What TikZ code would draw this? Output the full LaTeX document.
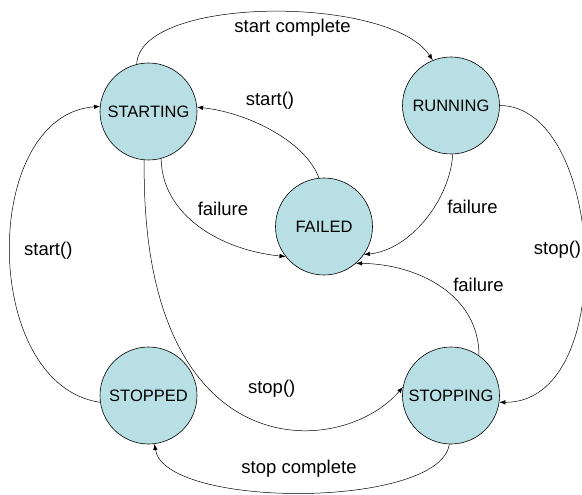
\documentclass[tikz,border=0pt]{standalone}
\usepackage{fontspec}
\setmainfont{Liberation Sans}
\usepackage{xcolor}
\usepackage{tikz}
\usetikzlibrary{arrows.meta}
\definecolor{statefill}{RGB}{184,223,228}

\begin{document}
\begin{tikzpicture}[x=1pt, y=1pt,
    statenode/.style={circle, draw, line width=0.6pt, fill=statefill,
        minimum size=97pt, inner sep=0pt, font=\fontsize{16.5}{18}\selectfont},
    edgelabel/.style={inner sep=0pt, font=\fontsize{18.5}{20}\selectfont},
    trans/.style={-{Latex[length=6pt, width=4.5pt]}, line width=0.5pt}]
    \useasboundingbox (0, 0) rectangle (582, -495);
    % states
    \node [statenode] (starting) at (148.5, -111.5) {STARTING};
    \node [statenode] (running) at (451, -105.5) {RUNNING};
    \node [statenode] (failed) at (324, -226.5) {FAILED};
    \node [statenode] (stopped) at (148.5, -395.5) {STOPPED};
    \node [statenode] (stopping) at (451, -395.5) {STOPPING};
    % transitions
    \draw [trans] (starting.104) .. controls (140, 5) and (390, 5) .. (running.112);
    \draw [trans] (failed.96) .. controls (305, -140) and (245, -112) .. (starting.5);
    \draw [trans] (starting.285) .. controls (162, -215) and (220, -250) .. (failed.218);
    \draw [trans] (running.272) .. controls (450, -200) and (410, -250) .. (failed.325);
    \draw [trans] (running.0) .. controls (605, -106) and (620, -403) .. (stopping.352);
    \draw [trans] (stopping.55) .. controls (479, -295) and (418, -264) .. (failed.311);
    \draw [trans] (starting.265) .. controls (140, -470) and (340, -460) .. (stopping.170);
    \draw [trans] (stopped.188) .. controls (-20, -385) and (-20, -115) .. (starting.174);
    \draw [trans] (stopping.268) .. controls (440, -509) and (165, -509) .. (stopped.277);
    % labels
    \node [edgelabel] (lstartcomplete) at (292.5, -28) {start complete};
    \node [edgelabel] (lstartfailed) at (270, -101) {start()};
    \node [edgelabel] (lfailstarting) at (223, -209) {failure};
    \node [edgelabel] (lfailrunning) at (472.5, -207) {failure};
    \node [edgelabel] (lstoprunning) at (557.5, -250) {stop()};
    \node [edgelabel] (lfailstopping) at (478.5, -285) {failure};
    \node [edgelabel] (lstartstopped) at (48.3, -251) {start()};
    \node [edgelabel] (lstopstarting) at (271.7, -389) {stop()};
    \node [edgelabel] (lstopcomplete) at (299, -469) {stop complete};
\end{tikzpicture}
\end{document}
